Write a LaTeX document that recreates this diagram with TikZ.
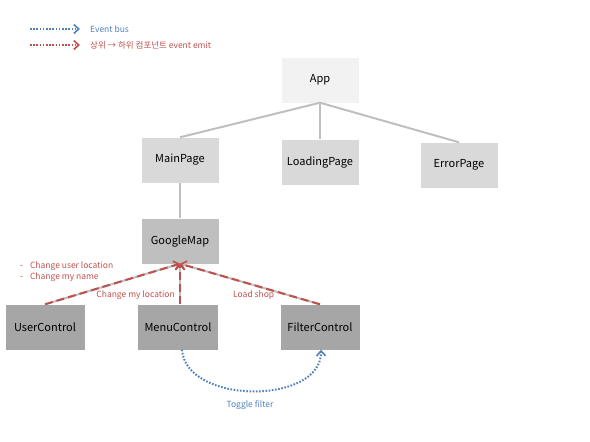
\documentclass[tikz,border=0pt]{standalone}
\usepackage{fontspec}
\setmainfont{Noto Sans CJK KR}
\usetikzlibrary{arrows.meta}
\definecolor{redc}{HTML}{C0504D}
\definecolor{bluec}{HTML}{4F81BD}
\definecolor{linegray}{HTML}{BFBFBF}
\definecolor{fillA}{HTML}{F2F2F2}
\definecolor{fillB}{HTML}{D9D9D9}
\definecolor{fillC}{HTML}{BFBFBF}
\definecolor{fillD}{HTML}{A6A6A6}
\tikzset{
  box/.style={minimum width=77pt, minimum height=45pt, inner sep=0pt, font=\fontsize{11}{13}\selectfont, text=black},
  tree/.style={draw=linegray, line width=2pt},
  emit/.style={draw=redc, line width=2pt, dash pattern=on 8pt off 4pt, -{Straight Barb[length=5pt,width=9pt,line width=1.6pt]}},
  bus/.style={draw=bluec, line width=2pt, dash pattern=on 1.6pt off 1.6pt, -{Straight Barb[length=5pt,width=9pt,line width=1.6pt]}},
  lbl/.style={font=\fontsize{8.5}{10}\selectfont, inner sep=0pt},
}
\begin{document}
\begin{tikzpicture}[x=1pt,y=-1pt]
\useasboundingbox (0,0) rectangle (590,442);
% legend
\coordinate (lb1) at (30,29); \coordinate (lb2) at (80,29);
\coordinate (lr1) at (30,45); \coordinate (lr2) at (80,45);
\draw[bus] (lb1) -- (lb2);
\draw[emit, dash pattern=on 1.6pt off 1.6pt] (lr1) -- (lr2);
\node[lbl, anchor=west, text=bluec] (lgb) at (90,29) {Event bus};
\node[lbl, anchor=west, text=redc] (lgr) at (90,45) {상위 → 하위 컴포넌트 event emit};
% boxes
\node[box, fill=fillA] (app) at (320,80) {App};
\node[box, fill=fillB] (main) at (180,160) {MainPage};
\node[box, fill=fillB] (load) at (320,162) {LoadingPage};
\node[box, fill=fillB] (err) at (459,165) {ErrorPage};
\node[box, fill=fillC] (gmap) at (180,241) {GoogleMap};
\node[box, minimum width=79pt, fill=fillD] (user) at (45,327) {UserControl};
\node[box, minimum width=80pt, fill=fillD] (menu) at (178,327) {MenuControl};
\node[box, minimum width=79pt, fill=fillD] (filter) at (320,327) {FilterControl};
% tree lines
\draw[tree] (app.south) -- (main.north);
\draw[tree] (app.south) -- (load.north);
\draw[tree] (app.south) -- (err.north);
\draw[tree] (main.south) -- (gmap.north);
% control lines
\draw[tree] (user.north) -- (gmap.south);
\draw[tree] (menu.north -| gmap.south) -- (gmap.south);
\draw[tree] (filter.north) -- (gmap.south);
\draw[emit] (user.north) -- (gmap.south);
\draw[emit] (menu.north -| gmap.south) -- (gmap.south);
\draw[emit] (filter.north) -- (gmap.south);
% bus arc
\draw[bus] ([xshift=4pt]menu.south) .. controls (186,405) and (322,405) .. ([xshift=1pt]filter.south);
% labels
\node[lbl, anchor=west, text=redc] (l1) at (20,266) {-\hspace{5pt} Change user location};
\node[lbl, anchor=west, text=redc] (l2) at (20,277) {-\hspace{5pt} Change my name};
\node[lbl, anchor=east, text=redc] (l3) at (175,295) {Change my location};
\node[lbl, anchor=west, text=redc] (l4) at (233,295) {Load shop};
\node[lbl, text=bluec] (l5) at (250,405) {Toggle filter};
\end{tikzpicture}
\end{document}
